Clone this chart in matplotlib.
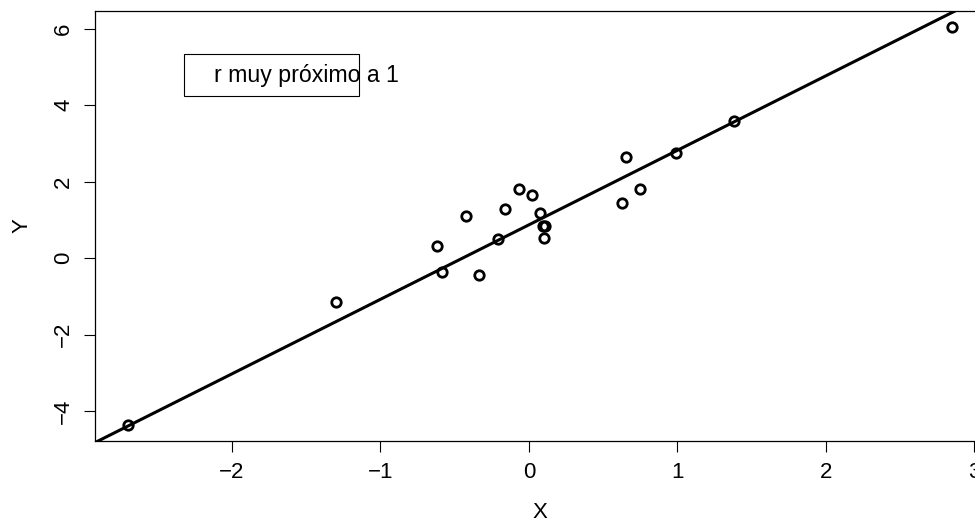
import numpy as np
import matplotlib.pyplot as plt
from matplotlib.patches import Rectangle

plt.rcParams['font.family'] = ['Liberation Sans', 'DejaVu Sans']

x = [-2.70, -1.30, -0.622, -0.582, -0.425, -0.335, -0.211, -0.164, -0.069, 0.018,
     0.074, 0.097, 0.112, 0.101, 0.625, 0.651, 0.750, 0.990, 1.380, 2.850]
y = [-4.37, -1.15, 0.314, -0.375, 1.10, -0.445, 0.505, 1.28, 1.806, 1.66,
     1.19, 0.838, 0.838, 0.515, 1.43, 2.65, 1.82, 2.76, 3.59, 6.05]
# line drawn in the original (abline)
intercept = 0.87
slope = 1.95
legend_text = "r muy próximo a 1"

x = np.array(x)
y = np.array(y)

fig = plt.figure(figsize=(9.75, 5.24), dpi=100)
ax = fig.add_axes([95 / 975, 83 / 524, 890 / 975, 430 / 524])

# R-style 4% range expansion
xr = x.max() - x.min()
yr = y.max() - y.min()
xlim = (x.min() - 0.04 * xr, x.max() + 0.04 * xr)
ylim = (y.min() - 0.04 * yr, y.max() + 0.04 * yr)

ax.plot(x, y, 'o', mfc='none', mec='black', ms=6.8, mew=2)
xx = np.array(xlim)
ax.plot(xx, intercept + slope * xx, color='black', lw=2.2)
ax.set_xlim(xlim)
ax.set_ylim(ylim)

ax.set_xticks([-2, -1, 0, 1, 2, 3])
ax.set_yticks([-4, -2, 0, 2, 4, 6])
ax.set_yticklabels(['\u22124', '\u22122', '0', '2', '4', '6'], rotation=90, va='center')
ax.set_xticklabels(['\u22122', '\u22121', '0', '1', '2', '3'])
ax.tick_params(length=8, width=0.8, labelsize=16)
ax.tick_params(axis='x', pad=7)
ax.tick_params(axis='y', pad=7)
for s in ax.spines.values():
    s.set_linewidth(0.9)

ax.set_xlabel('X', fontsize=16, labelpad=14)
ax.set_ylabel('Y', fontsize=16, labelpad=15)

ax.add_patch(Rectangle((-2.325, 4.24), 1.179, 1.10, fill=False, lw=0.8, ec='black'))
ax.text(-2.123, 4.79, legend_text, fontsize=16.7, va='center', ha='left')

fig.savefig('out.png', dpi=100)
